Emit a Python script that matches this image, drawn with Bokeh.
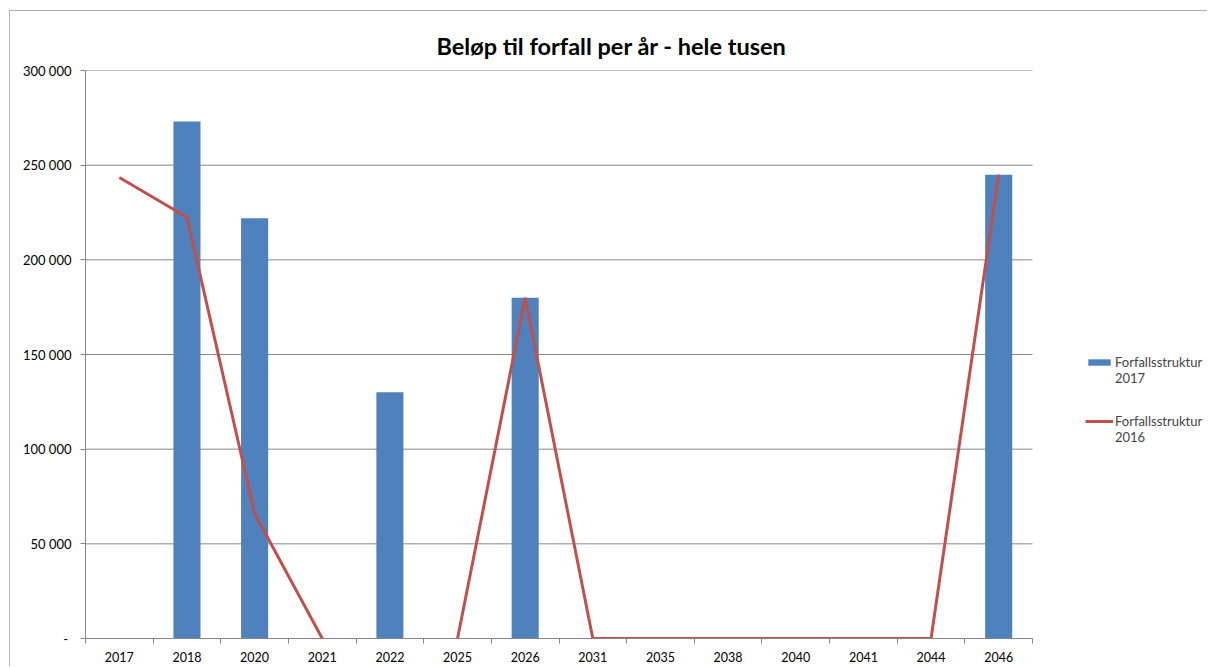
from bokeh.plotting import figure
from bokeh.models import FixedTicker, Legend, LegendItem, ColumnDataSource, Range1d
from bokeh.embed import file_html
from bokeh.resources import INLINE

years = ["2017", "2018", "2020", "2021", "2022", "2025", "2026",
         "2031", "2035", "2038", "2040", "2041", "2044", "2046"]
struktur_2017 = [0, 273000, 222000, 0, 130000, 0, 180000,
                 0, 0, 0, 0, 0, 0, 245000]
struktur_2016 = [243500, 222500, 66000, 0, float("nan"), 0, 180000,
                 0, 0, 0, 0, 0, 0, 245000]
y_ticks = [0, 50000, 100000, 150000, 200000, 250000, 300000]
y_tick_labels = ["- ", "50 000", "100 000", "150 000", "200 000", "250 000", "300 000"]

FONT = "Lato"
GRAY = "#868686"

n = len(years)
xpos = [i + 0.5 for i in range(n)]
src = ColumnDataSource(dict(x=xpos, year=years, s2017=struktur_2017, s2016=struktur_2016))

W, H = 1198, 656
LEFT, TOP, BOTTOM = 75, 59, 29
PLOT_W = 947                      # width of the category area in pixels
frame_w = W - LEFT
x_end = n * frame_w / PLOT_W      # extra room on the right holds the legend

p = figure(width=W, height=H, output_backend="svg", toolbar_location=None,
           x_range=Range1d(0, x_end), y_range=Range1d(0, 300000),
           min_border_left=LEFT, min_border_right=0, min_border_top=TOP, min_border_bottom=BOTTOM)
p.styles = {"margin-left": "9px", "margin-top": "10px",
            "border-left": "1px solid #b0b0b0", "border-top": "1px solid #b0b0b0"}

p.title.text = "Beløp til forfall per år - hele tusen"
p.title.text_font = FONT
p.title.text_font_size = "23.5px"
p.title.text_font_style = "bold"
p.title.text_color = "black"
p.title.align = "left"
p.title.offset = 351
p.title.standoff = 22

p.outline_line_color = None
p.xgrid.visible = False
p.ygrid.visible = False

# horizontal gridlines limited to the category area
p.segment(x0=[0] * len(y_ticks), x1=[n] * len(y_ticks), y0=y_ticks, y1=y_ticks,
          line_color=GRAY, line_width=1)

bars = p.vbar(x="x", top="s2017", width=0.4, source=src, fill_color="#4F81BD", line_color=None)
line = p.line(x="x", y="s2016", source=src, line_color="#C0504D", line_width=3)

yax = p.yaxis[0]
yax.ticker = FixedTicker(ticks=y_ticks)
yax.major_label_overrides = {t: l for t, l in zip(y_ticks, y_tick_labels)}
yax.axis_line_color = GRAY
yax.major_tick_line_color = GRAY
yax.major_tick_out = 5
yax.major_tick_in = 0
yax.minor_tick_line_color = None
yax.major_label_standoff = 9
yax.major_label_text_font = FONT
yax.major_label_text_font_size = "13px"
yax.major_label_text_color = "black"

xax = p.xaxis[0]
xax.bounds = (0, n)
xax.ticker = FixedTicker(ticks=xpos, minor_ticks=list(range(n + 1)))
xax.major_label_overrides = {x: y for x, y in zip(xpos, years)}
xax.axis_line_color = GRAY
xax.major_tick_line_color = None
xax.major_tick_out = 0
xax.major_tick_in = 0
xax.minor_tick_line_color = GRAY
xax.minor_tick_out = 5
xax.minor_tick_in = 0
xax.major_label_standoff = 8
xax.major_label_text_font = FONT
xax.major_label_text_font_size = "12.5px"
xax.major_label_text_color = "black"

legend = Legend(items=[LegendItem(label=" \nForfallsstruktur\n2017", renderers=[bars]),
                       LegendItem(label=" \nForfallsstruktur\n2016", renderers=[line])],
                location=(1000, 193), padding=0, margin=0, spacing=11,
                glyph_width=28, glyph_height=8, label_standoff=2,
                label_text_font=FONT, label_text_font_size="13px",
                border_line_color=None, background_fill_alpha=0)
p.add_layout(legend, "center")

open("out.html", "w").write(file_html(p, INLINE))
